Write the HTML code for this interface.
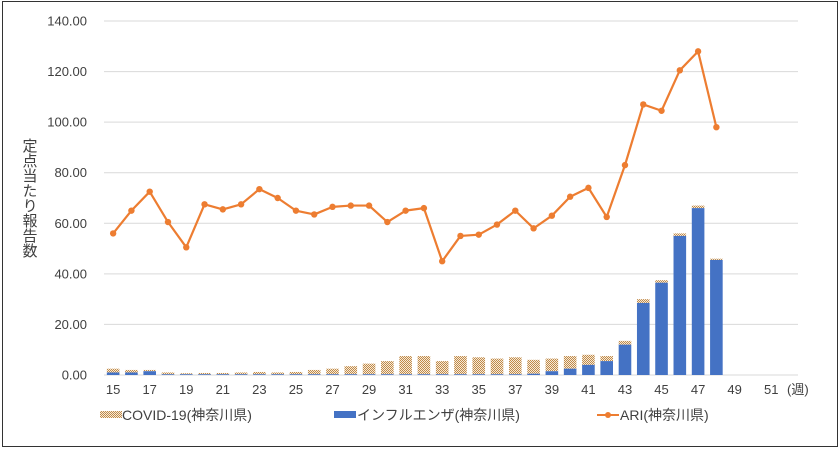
<!DOCTYPE html>
<html><head><meta charset="utf-8"><style>
html,body{margin:0;padding:0;background:#fff;}
svg text{font-family:"Liberation Sans","Noto Sans CJK JP",sans-serif;fill:#404040;}
</style></head><body>
<svg width="840" height="448" xmlns="http://www.w3.org/2000/svg">
<defs>
<pattern id="chk" width="2" height="2" patternUnits="userSpaceOnUse">
<rect width="2" height="2" fill="#f6ead8"/><rect width="1" height="1" fill="#c08a4a"/><rect x="1" y="1" width="1" height="1" fill="#c08a4a"/>
</pattern>
</defs>
<rect x="2.5" y="1.5" width="835" height="445" fill="#fff" stroke="#333" stroke-width="1"/>
<g id="grid" stroke="#d9d9d9" stroke-width="1"></g>
<g id="ylab" font-size="13" text-anchor="end"></g>
<g id="bars"></g>
<g id="line"></g>
<g id="xlab" font-size="13" text-anchor="middle"></g>
<text x="787" y="394" font-size="13">(週)</text>
<text font-size="15" transform="translate(29,138)" style="writing-mode:vertical-rl">定点当たり報告数</text>
<g font-size="14">
<rect x="100" y="411" width="22" height="7" fill="url(#chk)"/>
<text x="122" y="420">COVID-19(神奈川県)</text>
<rect x="334" y="411" width="22" height="7" fill="#4472c4"/>
<text x="357" y="420">インフルエンザ(神奈川県)</text>
<line x1="597" y1="415" x2="619" y2="415" stroke="#ed7d31" stroke-width="2"/>
<circle cx="608" cy="415" r="3" fill="#ed7d31"/>
<text x="620" y="420">ARI(神奈川県)</text>
</g>
</svg>
<script>
const ns="http://www.w3.org/2000/svg";
const y0=375,sc=354/140;
const X=w=>104+18.28*(w-15+0.5);
const Y=v=>y0-v*sc;
function el(p,t,a){const e=document.createElementNS(ns,t);for(const k in a)e.setAttribute(k,a[k]);document.getElementById(p).appendChild(e);return e;}
for(let v=0;v<=140;v+=20){el('grid','line',{x1:104,x2:798,y1:Y(v),y2:Y(v)});const t=el('ylab','text',{x:87,y:Y(v)+4.5});t.textContent=v.toFixed(2);}
for(let w=15;w<=51;w+=2){const t=el('xlab','text',{x:X(w),y:394});t.textContent=w;}
const ari=[56,65,72.5,60.5,50.5,67.5,65.5,67.5,73.5,70,65,63.5,66.5,67,67,60.5,65,66,45,55,55.5,59.5,65,58,63,70.5,74,62.5,83,107,104.5,120.5,128,98];
const flu=[1,1,1.5,0.3,0.3,0.3,0.3,0.3,0.3,0.3,0.3,0.3,0.3,0.3,0.3,0.3,0.3,0.3,0.3,0.3,0.3,0.3,0.3,0.5,1.5,2.5,4,5.5,12,28.5,36.5,55,66,45.5];
const tot=[2.5,2,2,1,0.7,0.8,0.8,1,1.2,1,1.2,2,2.5,3.5,4.5,5.5,7.5,7.5,5.5,7.5,7,6.5,7,6,6.5,7.5,8,7.5,13.5,30,37.5,56,67,46];
for(let i=0;i<ari.length;i++){const w=15+i,x=X(w)-6.3;
el('bars','rect',{x:x,y:Y(tot[i]),width:12.6,height:(tot[i]-flu[i])*sc,fill:'url(#chk)'});
el('bars','rect',{x:x,y:Y(flu[i]),width:12.6,height:flu[i]*sc,fill:'#4472c4'});}
el('line','polyline',{points:ari.map((v,i)=>X(15+i)+','+Y(v)).join(' '),fill:'none',stroke:'#ed7d31','stroke-width':2.2,'stroke-linejoin':'round'});
ari.forEach((v,i)=>el('line','circle',{cx:X(15+i),cy:Y(v),r:3.2,fill:'#ed7d31'}));
</script>
</body></html>
